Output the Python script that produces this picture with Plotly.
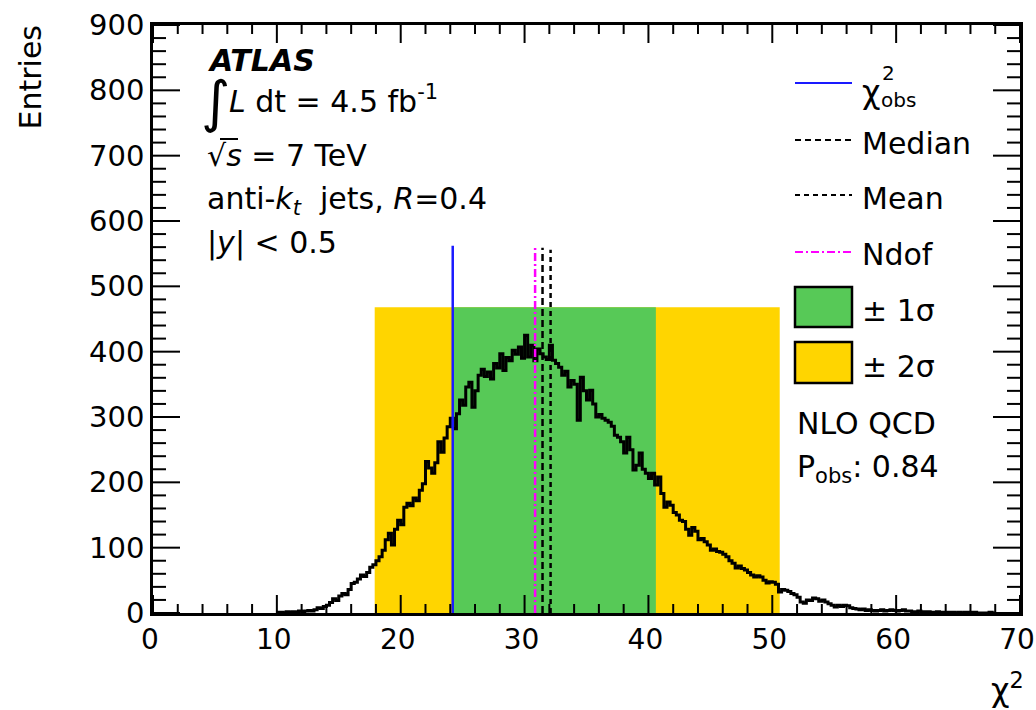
import plotly.graph_objects as go

# ---------------- data ----------------
hist_start = 10.0
hist_width = 0.25
counts = [
    1, 1, 0, 2,        # 10
    1, 2, 1, 3,        # 11
    2, 3, 4, 3,        # 12
    5, 8, 7, 10,       # 13
    12, 16, 22, 19,    # 14
    26, 30, 28, 36,    # 15
    45, 47, 52, 58,    # 16
    56, 62, 70, 74,    # 17
    80, 86, 96, 112,   # 18
    122, 104, 128, 142,  # 19
    135, 162, 168, 164,  # 20
    176, 172, 188, 198,  # 21
    232, 222, 214, 230,  # 22
    262, 246, 268, 285,  # 23
    298, 282, 305, 326,  # 24
    318, 346, 353, 315,  # 25
    340, 364, 373, 362,  # 26
    369, 358, 382, 375,  # 27
    397, 371, 391, 386,  # 28
    402, 396, 407, 390,  # 29
    425, 392, 410, 386,  # 30
    404, 397, 392, 388,  # 31
    410, 387, 382, 376,  # 32
    364, 370, 346, 356,  # 33
    350, 295, 361, 340,  # 34
    326, 341, 320, 300,  # 35
    304, 298, 295, 292,  # 36
    286, 272, 269, 262,  # 37
    245, 269, 250, 219,  # 38
    226, 245, 220, 214,  # 39
    206, 214, 196, 208,  # 40
    183, 162, 170, 165,  # 41
    154, 150, 142, 140,  # 42
    128, 119, 131, 125,  # 43
    112, 114, 109, 104,  # 44
    96, 98, 94, 93,      # 45
    90, 86, 80, 76,      # 46
    69, 72, 68, 66,      # 47
    62, 58, 55, 57,      # 48
    55, 50, 46, 48,      # 49
    47, 44, 32, 36,      # 50
    35, 33, 30, 28,      # 51
    24, 17, 15, 20,      # 52
    19, 23, 22, 18,      # 53
    20, 17, 14, 12,      # 54
    9, 12, 10, 12,       # 55
    11, 8, 7, 6,         # 56
    5, 6, 4, 5,          # 57
    4, 3, 4, 5,          # 58
    3, 4, 5, 4,          # 59
    3, 4, 5, 3,          # 60
    3, 2, 2, 3,          # 61
    2, 2, 2, 1,          # 62
    1, 2, 1, 1,          # 63
    1, 1, 1, 0,          # 64
    1, 0, 1, 1,          # 65
    0, 1, 0, 0,          # 66
    0, 0, 1, 0,          # 67
]

chi2_obs = 24.2
median_val = 31.45
mean_val = 32.1
ndof_val = 30.85
marker_line_top = 562

sigma1 = [24.2, 40.6]
sigma2 = [17.9, 50.6]
band_top = 468

x_range = [0, 70]
y_range = [0, 900]
x_major_ticks = [0, 10, 20, 30, 40, 50, 60, 70]
x_minor_ticks = [v for v in range(0, 71, 2) if v % 10 != 0]
y_major_ticks = [0, 100, 200, 300, 400, 500, 600, 700, 800, 900]
y_minor_ticks = [v for v in range(0, 901, 20) if v % 100 != 0]

FONT = "DejaVu Sans"

# ---------------- figure ----------------
W, H = 1036, 710
L, R, T, B = 153, 16, 25, 97
PW, PH = W - L - R, H - T - B
X_PER_PX = (x_range[1] - x_range[0]) / PW
Y_PER_PX = (y_range[1] - y_range[0]) / PH


def px(xp):
    return (xp - L) / PW


def py(yp):
    return (H - B - yp) / PH


fig = go.Figure()

# bands
for (lo, hi), col in [(sigma2, "#ffd500"), (sigma1, "#57c957")]:
    fig.add_trace(go.Scatter(
        x=[lo, lo, hi, hi, lo], y=[0, band_top, band_top, 0, 0],
        fill="toself", fillcolor=col, mode="none",
        showlegend=False, hoverinfo="skip"))

# histogram step line
edges = [hist_start + i * hist_width for i in range(len(counts) + 1)]
fig.add_trace(go.Scatter(
    x=edges, y=counts + [counts[-1]], mode="lines",
    line=dict(color="black", width=3, shape="hv"),
    showlegend=False))

# vertical markers
fig.add_trace(go.Scatter(x=[chi2_obs, chi2_obs], y=[0, marker_line_top], mode="lines",
                         line=dict(color="#1a1aff", width=2.5), showlegend=False))
fig.add_trace(go.Scatter(x=[ndof_val, ndof_val], y=[0, marker_line_top], mode="lines",
                         line=dict(color="#ff00ff", width=2.5, dash="8px,3px,2px,3px"), showlegend=False))
fig.add_trace(go.Scatter(x=[median_val, median_val], y=[0, marker_line_top - 3], mode="lines",
                         line=dict(color="black", width=2.5, dash="7px,4px"), showlegend=False))
fig.add_trace(go.Scatter(x=[mean_val, mean_val], y=[0, marker_line_top - 6], mode="lines",
                         line=dict(color="black", width=2.5, dash="5px,4px"), showlegend=False))

# axis ticks (inside, mirrored) as a line trace on the axis scales
tx, ty = [], []
for v, ln in [(v, 18) for v in x_major_ticks] + [(v, 9) for v in x_minor_ticks]:
    dy = ln * Y_PER_PX
    tx += [v, v, None, v, v, None]
    ty += [y_range[0], y_range[0] + dy, None, y_range[1], y_range[1] - dy, None]
for v, ln in [(v, 27) for v in y_major_ticks] + [(v, 13) for v in y_minor_ticks]:
    dx = ln * X_PER_PX
    tx += [x_range[0], x_range[0] + dx, None, x_range[1], x_range[1] - dx, None]
    ty += [v, v, None, v, v, None]
fig.add_trace(go.Scatter(x=tx, y=ty, mode="lines", line=dict(color="black", width=2),
                         showlegend=False, hoverinfo="skip", cliponaxis=False))

shapes = []
ann = []


def text(x, y, s, size=30, anchor="left", **kw):
    ann.append(dict(xref="paper", yref="paper", x=px(x), y=py(y), text=s,
                    showarrow=False, xanchor=anchor, yanchor="middle",
                    font=dict(family=FONT, size=size, color="black"), **kw))


# legend (manual)
lx0, lx1 = 795, 852
shapes.append(dict(type="line", xref="paper", yref="paper", x0=px(lx0), x1=px(lx1), y0=py(83), y1=py(83),
                   line=dict(color="#1a1aff", width=2)))
shapes.append(dict(type="line", xref="paper", yref="paper", x0=px(lx0), x1=px(lx1), y0=py(140), y1=py(140),
                   line=dict(color="black", width=2, dash="6px,4px")))
shapes.append(dict(type="line", xref="paper", yref="paper", x0=px(lx0), x1=px(lx1), y0=py(195), y1=py(195),
                   line=dict(color="black", width=2, dash="5px,4px")))
shapes.append(dict(type="line", xref="paper", yref="paper", x0=px(lx0), x1=px(lx1), y0=py(252), y1=py(252),
                   line=dict(color="#ff00ff", width=2, dash="8px,3px,2px,3px")))
shapes.append(dict(type="rect", xref="paper", yref="paper", x0=px(lx0), x1=px(lx1), y0=py(327), y1=py(287),
                   fillcolor="#57c957", line=dict(color="black", width=2.5)))
shapes.append(dict(type="rect", xref="paper", yref="paper", x0=px(lx0), x1=px(lx1), y0=py(383), y1=py(342),
                   fillcolor="#ffd500", line=dict(color="black", width=2.5)))

text(860, 92, "χ", size=32)
text(880, 73, "2", size=20)
text(879, 100, "obs", size=20)
text(860, 143, "Median")
text(860, 198, "Mean")
text(860, 254, "Ndof")
text(860, 310, "± 1σ")
text(860, 366, "± 2σ")
text(795, 423, "NLO QCD")
text(795, 468, "P<sub>obs</sub>: 0.84")

# ATLAS labels
text(206, 60, "<b><i>ATLAS</i></b>", size=30)
text(199, 101, "∫", size=56)
text(227, 99, "<i>L</i> dt = 4.5 fb<sup>-1</sup>", size=30)
text(205, 155, "√<i>s</i> = 7 TeV", size=30)
shapes.append(dict(type="line", xref="paper", yref="paper", x0=px(220), x1=px(238), y0=py(139), y1=py(139),
                   line=dict(color="black", width=2)))
text(205, 200, "anti-<i>k</i><sub><i>t</i></sub>  jets, <i>R</i>=0.4", size=30)
text(205, 243, "|<i>y</i>| < 0.5", size=30)

# axis titles
text(1026, 688, "χ<sup>2</sup>", size=32, anchor="right")
ann.append(dict(xref="paper", yref="paper", x=px(30), y=py(22), text="Entries", showarrow=False,
                textangle=-90, xanchor="center", yanchor="top",
                font=dict(family=FONT, size=30, color="black")))

fig.update_layout(
    width=W, height=H,
    margin=dict(l=L, r=R, t=T, b=B, pad=0, autoexpand=False),
    paper_bgcolor="white", plot_bgcolor="white",
    shapes=shapes, annotations=ann,
    showlegend=False,
    xaxis=dict(range=x_range, tickmode="array", tickvals=x_major_ticks, automargin=False,
               ticks="", ticklabeloverflow="allow", ticklabelshift=-3,
               showline=True, linecolor="black", linewidth=2.5, mirror=True,
               showgrid=False, zeroline=False,
               tickfont=dict(family=FONT, size=28, color="black")),
    yaxis=dict(range=y_range, tickmode="array", tickvals=y_major_ticks, automargin=False,
               ticks="", ticklabeloverflow="allow",
               showline=True, linecolor="black", linewidth=2.5, mirror=True,
               showgrid=False, zeroline=False,
               tickfont=dict(family=FONT, size=29, color="black")),
)

fig.write_html("out.html")
